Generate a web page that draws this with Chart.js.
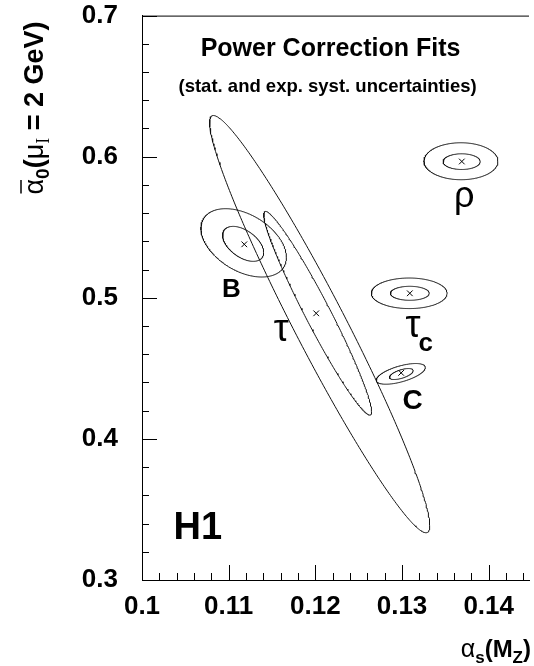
<!DOCTYPE html>
<html>
<head>
<meta charset="utf-8">
<title>Power Correction Fits</title>
<script src="https://cdn.jsdelivr.net/npm/chart.js@4.4.0/dist/chart.umd.min.js"></script>
<style>
  html, body { margin: 0; padding: 0; background: #fff; }
  #fits { display: block; }
</style>
</head>
<body>
<canvas id="fits" width="534" height="666"></canvas>
<script>
// ==========================================
// Power correction fits: alpha_s(MZ) vs alpha_0
// ==========================================

var FONT = '"Liberation Sans", Arial, Helvetica, sans-serif';

// ----------------------------
// Fit results (central values)
// ----------------------------
var fitNames  = ['B', 'τ', 'τc', 'C', 'ρ'];
var fitAlphaS = [0.1118, 0.1201, 0.1309, 0.1299, 0.1369];
var fitAlpha0 = [0.5379, 0.4890, 0.5032, 0.4468, 0.5966];

// ----------------------------
// Error contours, inner and outer for each fit:
// centre, half extent in x and y, correlation
// ----------------------------
var contourFit  = ['B', 'B', 'τ', 'τ', 'τc', 'τc', 'C', 'C', 'ρ', 'ρ'];
var contourCx   = [0.11167, 0.11173, 0.12027, 0.12050, 0.13090, 0.13083, 0.12992, 0.12986, 0.13688, 0.13680];
var contourCy   = [0.53823, 0.53894, 0.48903, 0.48135, 0.50319, 0.50319, 0.44598, 0.44609, 0.59650, 0.59678];
var contourHx   = [0.00237, 0.00493, 0.00622, 0.01270, 0.00224, 0.00437, 0.00137, 0.00283, 0.00214, 0.00427];
var contourHy   = [0.01239, 0.02421, 0.07221, 0.14786, 0.00496, 0.01083, 0.00389, 0.00733, 0.00556, 0.01310];
var contourCorr = [-0.49, -0.42, -0.965, -0.965, 0, 0, 0.60, 0.61, 0, 0];

// ----------------------------
// Axes
// ----------------------------
var xMin = 0.1, xMax = 0.14465;
var yMin = 0.3, yMax = 0.7;
var xTickValues = [0.1, 0.11, 0.12, 0.13, 0.14];
var xTickLabels = ['0.1', '0.11', '0.12', '0.13', '0.14'];
var yTickValues = [0.3, 0.4, 0.5, 0.6, 0.7];
var yTickLabels = ['0.3', '0.4', '0.5', '0.6', '0.7'];
var xMinorStep = 0.002;
var yMinorStep = 0.02;

// outline of a correlated error ellipse
function contourPoints(i) {
    var cx = contourCx[i], cy = contourCy[i];
    var hx = contourHx[i], hy = contourHy[i];
    var r = contourCorr[i], s = Math.sqrt(1 - r * r);
    var n = 360, pts = [];
    for (var k = 0; k <= n; k++) {
        var t = 2 * Math.PI * k / n;
        pts.push({ x: cx + hx * Math.cos(t), y: cy + hy * (r * Math.cos(t) + s * Math.sin(t)) });
    }
    return pts;
}

var datasets = contourFit.map(function (name, i) {
    return {
        label: name,
        data: contourPoints(i),
        showLine: true,
        pointRadius: 0,
        borderColor: '#111',
        borderWidth: 1,
        tension: 0,
        fill: false
    };
});

datasets.push({
    label: 'fits',
    data: fitAlphaS.map(function (x, i) { return { x: x, y: fitAlpha0[i] }; }),
    showLine: false,
    pointStyle: 'crossRot',
    pointRadius: 4,
    borderColor: '#000',
    borderWidth: 1
});

// ----------------------------
// Inward tick marks and top frame line
// ----------------------------
var framePlugin = {
    id: 'frame',
    afterDraw: function (chart) {
        var ctx = chart.ctx, a = chart.chartArea;
        var xs = chart.scales.x, ys = chart.scales.y;
        ctx.save();
        ctx.strokeStyle = '#000';
        ctx.lineWidth = 1;
        ctx.beginPath();
        ctx.moveTo(a.left, a.top + 0.5);
        ctx.lineTo(a.right, a.top + 0.5);

        var i, v, p, len;
        for (i = 0; xMin + i * xMinorStep <= xMax + 1e-9; i++) {
            v = xMin + i * xMinorStep;
            p = Math.round(xs.getPixelForValue(v)) + 0.5;
            len = (i % 5 === 0) ? 15 : 7;
            ctx.moveTo(p, a.bottom);
            ctx.lineTo(p, a.bottom - len);
        }
        for (i = 0; yMin + i * yMinorStep <= yMax + 1e-9; i++) {
            v = yMin + i * yMinorStep;
            p = Math.round(ys.getPixelForValue(v)) + 0.5;
            len = (i % 5 === 0) ? 15 : 7;
            ctx.moveTo(a.left, p);
            ctx.lineTo(a.left + len, p);
        }
        ctx.stroke();
        ctx.restore();
    }
};

// draw a run of text pieces: [text, font, baseline shift]
function drawRun(ctx, parts, x, y) {
    parts.forEach(function (p) {
        ctx.font = p[1];
        ctx.fillText(p[0], x, y + (p[2] || 0));
        x += ctx.measureText(p[0]).width;
    });
    return x;
}

function runWidth(ctx, parts) {
    var w = 0;
    parts.forEach(function (p) {
        ctx.font = p[1];
        w += ctx.measureText(p[0]).width;
    });
    return w;
}

// ----------------------------
// Text: titles, fit names, axis titles
// ----------------------------
var textPlugin = {
    id: 'texts',
    afterDraw: function (chart) {
        var ctx = chart.ctx;
        var xs = chart.scales.x, ys = chart.scales.y;
        function px(v) { return xs.getPixelForValue(v); }
        function py(v) { return ys.getPixelForValue(v); }

        ctx.save();
        ctx.fillStyle = '#000';
        ctx.textBaseline = 'alphabetic';

        ctx.textAlign = 'center';
        ctx.font = 'bold 25px ' + FONT;
        ctx.fillText('Power Correction Fits', px(0.12175), py(0.67168));
        ctx.font = 'bold 18.5px ' + FONT;
        ctx.fillText('(stat. and exp. syst. uncertainties)', px(0.12141), py(0.64619));

        // fit names next to their contours
        ctx.font = 'bold 26px ' + FONT;
        ctx.fillText('B', px(0.11031), py(0.50035));
        ctx.font = 'bold 28px ' + FONT;
        ctx.fillText('C', px(0.13121), py(0.42106));
        ctx.font = '38px ' + FONT;
        ctx.fillText('τ', px(0.11606), py(0.46920));
        ctx.font = '36px ' + FONT;
        ctx.fillText('ρ', px(0.13719), py(0.56407));
        ctx.font = '38px ' + FONT;
        ctx.fillText('τ', px(0.13126), py(0.47204));
        ctx.textAlign = 'left';
        ctx.font = 'bold 26px ' + FONT;
        ctx.fillText('c', px(0.13189), py(0.46212));

        ctx.font = 'bold 38px ' + FONT;
        ctx.fillText('H1', px(0.10364), py(0.32903));

        // x axis title, right aligned to the canvas edge
        var xt = [
            ['α', '25px ' + FONT, 0],
            ['s', 'bold 17px ' + FONT, 6],
            ['(M', 'bold 24px ' + FONT, 0],
            ['Z', 'bold 17px ' + FONT, 6],
            [')', 'bold 24px ' + FONT, 0]
        ];
        drawRun(ctx, xt, 531 - runWidth(ctx, xt), 657);

        // y axis title, rotated
        var yt = [
            ['α', '27px ' + FONT, 0],
            ['0', 'bold 19px ' + FONT, 6],
            ['(', 'bold 27px ' + FONT, 0],
            ['μ', '27px ' + FONT, 0],
            ['I', '18px "Liberation Serif", serif', 6],
            [' = 2 GeV)', 'bold 27px ' + FONT, 0]
        ];
        var w = runWidth(ctx, yt);
        ctx.translate(43, 108 + w / 2);
        ctx.rotate(-Math.PI / 2);
        ctx.font = '27px ' + FONT;
        var aw = ctx.measureText('α').width;
        drawRun(ctx, yt, 0, 0);
        ctx.lineWidth = 1.5;
        ctx.beginPath();
        ctx.moveTo(1, -22);
        ctx.lineTo(aw - 1, -22);
        ctx.stroke();
        ctx.restore();
    }
};

new Chart(document.getElementById('fits').getContext('2d'), {
    type: 'scatter',
    data: { datasets: datasets },
    options: {
        responsive: false,
        animation: false,
        devicePixelRatio: 1,
        layout: { padding: { top: 15, right: 0, bottom: 0, left: 0 } },
        plugins: { legend: { display: false }, tooltip: { enabled: false } },
        scales: {
            x: {
                type: 'linear',
                min: xMin,
                max: xMax,
                afterFit: function (scale) { scale.height = 86; },
                afterBuildTicks: function (scale) {
                    scale.ticks = xTickValues.map(function (v) { return { value: v }; });
                },
                grid: { color: 'rgba(0,0,0,0)', drawOnChartArea: false, drawTicks: true, tickLength: 11 },
                border: { display: true, color: '#000', width: 1 },
                ticks: {
                    padding: 0,
                    autoSkip: false,
                    maxRotation: 0,
                    color: '#000',
                    font: { family: FONT, size: 26, weight: 'bold' },
                    callback: function (v) { return xTickLabels[xTickValues.indexOf(v)]; }
                }
            },
            y: {
                type: 'linear',
                min: yMin,
                max: yMax,
                afterFit: function (scale) { scale.width = 142; },
                afterBuildTicks: function (scale) {
                    scale.ticks = yTickValues.map(function (v) { return { value: v }; });
                },
                grid: { color: 'rgba(0,0,0,0)', drawOnChartArea: false, drawTicks: true, tickLength: 24 },
                border: { display: true, color: '#000', width: 1 },
                ticks: {
                    padding: 0,
                    autoSkip: false,
                    color: '#000',
                    font: { family: FONT, size: 26, weight: 'bold' },
                    callback: function (v) { return yTickLabels[yTickValues.indexOf(v)]; }
                }
            }
        }
    },
    plugins: [framePlugin, textPlugin]
});
</script>
</body>
</html>
